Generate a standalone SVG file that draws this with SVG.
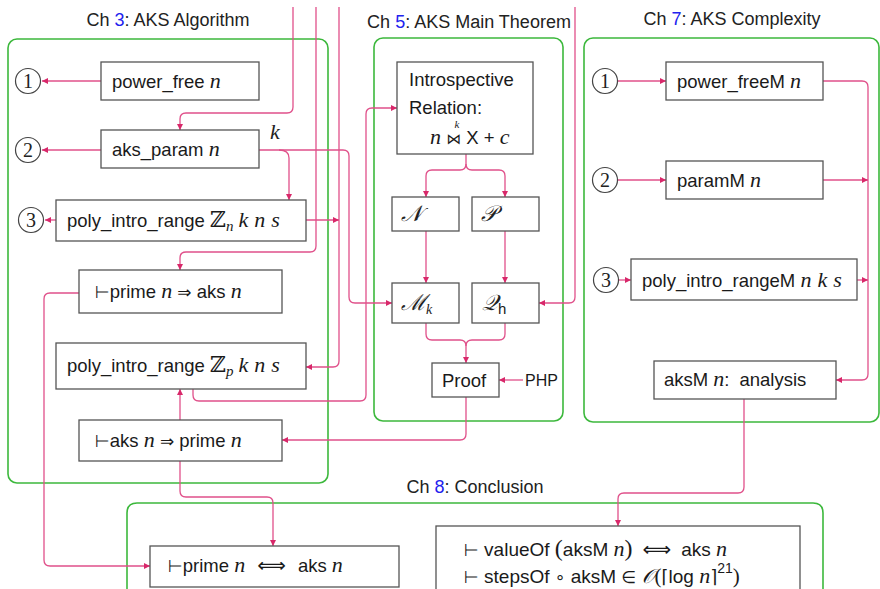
<svg xmlns="http://www.w3.org/2000/svg" width="880" height="589" viewBox="0 0 880 589">
<style>
.t{font-family:"Liberation Sans",Arial,sans-serif;font-size:18.5px;fill:#1a1a1a}
.ti{font-family:"Liberation Sans",Arial,sans-serif;font-size:18px;fill:#222}
.b{fill:#2222ee}
.m{font-family:"Liberation Serif","DejaVu Serif",serif;font-style:italic;font-size:22px}
.sy{font-family:"DejaVu Sans",sans-serif;font-size:17px}
.box{fill:#fff;stroke:#555;stroke-width:1.3}
.grp{fill:none;stroke:#3cb83c;stroke-width:1.6}
.c{fill:none;stroke:#e0508a;stroke-width:1.3}
.a{marker-end:url(#ah)}
.cir{fill:#fff;stroke:#444;stroke-width:1.2}
.num{font-family:"Liberation Serif",serif;font-size:20px;fill:#222}
</style>
<defs>
<marker id="ah" markerUnits="userSpaceOnUse" markerWidth="7" markerHeight="6" refX="6" refY="3" orient="auto">
<path d="M0,0 L6,3 L0,6 z" fill="#d8286a"/>
</marker>
</defs>
<rect width="880" height="589" fill="#fff"/>

<g id="chapters">
<rect class="grp" x="8" y="39" width="320" height="444" rx="9"/>
<text class="ti" x="168" y="26" text-anchor="middle">Ch <tspan class="b">3</tspan>: AKS Algorithm</text>
<rect class="grp" x="374" y="38" width="189" height="383" rx="9"/>
<text class="ti" x="469" y="28" text-anchor="middle">Ch <tspan class="b">5</tspan>: AKS Main Theorem</text>
<rect class="grp" x="584" y="38" width="295" height="384" rx="9"/>
<text class="ti" x="732" y="25" text-anchor="middle">Ch <tspan class="b">7</tspan>: AKS Complexity</text>
<path class="grp" d="M127,592 V513 Q127,503 137,503 H813 Q823,503 823,513 V592"/>
<text class="ti" x="475" y="493" text-anchor="middle">Ch <tspan class="b">8</tspan>: Conclusion</text>
</g>

<g id="connectors">
<path class="c a" d="M101,81 H42"/>
<path class="c a" d="M101,150 H42"/>
<path class="c a" d="M56,220 H45"/>
<path class="c a" d="M293,7 V107 Q293,113 287,113 H186 Q180,113 180,119 V130"/>
<path class="c a" d="M316,7 V246 Q316,252 310,252 H186 Q180,252 180,258 V270"/>
<path class="c a" d="M339,7 V361 Q339,367 333,367 H306"/>
<path class="c a" d="M306,220 H339"/>
<path class="c a" d="M259,150 H343 Q349,150 349,156 V297 Q349,303 355,303 H392"/>
<path class="c a" d="M279,150 Q289,150 289,158 V200"/>
<path class="c a" d="M193,389 V395 Q193,401 199,401 H360 Q366,401 366,395 V114 Q366,108 372,108 H397"/>
<path class="c a" d="M180,420 V389"/>
<path class="c a" d="M79,293 H50 Q44,293 44,299 V560 Q44,566 50,566 H150"/>
<path class="c a" d="M180,461 V491 Q180,497 186,497 H267 Q273,497 273,503 V546"/>
<path class="c a" d="M466,397 V434 Q466,440 460,440 H282"/>
<path class="c a" d="M466,154 V164 Q466,170 460,170 H432 Q426,170 426,176 V197"/>
<path class="c a" d="M466,164 Q466,170 472,170 H499 Q505,170 505,176 V197"/>
<path class="c a" d="M426,231 V283"/>
<path class="c a" d="M505,231 V283"/>
<path class="c a" d="M426,323 V334 Q426,340 432,340 H460 Q466,340 466,346 V363"/>
<path class="c" d="M505,323 V334 Q505,340 499,340 H472 Q466,340 466,346"/>
<path class="c a" d="M523,380 H499"/>
<path class="c a" d="M575,7 V297 Q575,303 569,303 H539"/>
<path class="c a" d="M618,81 H666"/>
<path class="c a" d="M618,180 H666"/>
<path class="c a" d="M619,280 H631"/>
<path class="c a" d="M823,81 H862 Q868,81 868,87 V374 Q868,380 862,380 H836"/>
<path class="c a" d="M823,180 H868"/>
<path class="c a" d="M857,280 H868"/>
<path class="c a" d="M744,399 V487 Q744,493 738,493 H624 Q618,493 618,499 V526"/>
</g>

<g id="c3-1"><circle class="cir" cx="28" cy="81" r="12.5"/><text class="num" x="28" y="88" text-anchor="middle">1</text></g>
<g id="c3-2"><circle class="cir" cx="28" cy="150" r="12.5"/><text class="num" x="28" y="157" text-anchor="middle">2</text></g>
<g id="c3-3"><circle class="cir" cx="31" cy="220" r="12.5"/><text class="num" x="31" y="227" text-anchor="middle">3</text></g>

<g id="power_free"><rect class="box" x="101" y="62" width="158" height="38"/>
<text class="t" x="112" y="88">power_free <tspan class="m">n</tspan></text></g>
<g id="aks_param"><rect class="box" x="101" y="130" width="158" height="38"/>
<text class="t" x="112" y="156">aks_param <tspan class="m">n</tspan></text>
<text class="m" x="270" y="139" style="font-size:22px;fill:#222">k</text></g>
<g id="poly_zn"><rect class="box" x="56" y="200" width="250" height="41"/>
<text class="t" x="67" y="227">poly_intro_range <tspan style="font-family:'DejaVu Serif',serif;font-size:22px">ℤ</tspan><tspan class="m" style="font-size:15px" dy="4">n</tspan><tspan class="m" dy="-4" dx="5">k</tspan><tspan class="m" dx="6">n</tspan><tspan class="m" dx="6">s</tspan></text></g>
<g id="prime_aks"><rect class="box" x="79" y="270" width="203" height="43"/>
<text class="t" x="95" y="298"><tspan class="sy">⊢</tspan>prime <tspan class="m">n</tspan> <tspan class="sy">⇒</tspan> aks <tspan class="m">n</tspan></text></g>
<g id="poly_zp"><rect class="box" x="56" y="343" width="250" height="46"/>
<text class="t" x="67" y="372">poly_intro_range <tspan style="font-family:'DejaVu Serif',serif;font-size:22px">ℤ</tspan><tspan class="m" style="font-size:15px" dy="4">p</tspan><tspan class="m" dy="-4" dx="5">k</tspan><tspan class="m" dx="6">n</tspan><tspan class="m" dx="6">s</tspan></text></g>
<g id="aks_prime"><rect class="box" x="79" y="420" width="203" height="41"/>
<text class="t" x="95" y="447"><tspan class="sy">⊢</tspan>aks <tspan class="m">n</tspan> <tspan class="sy">⇒</tspan> prime <tspan class="m">n</tspan></text></g>

<g id="introspective"><rect class="box" x="397" y="62" width="136" height="92"/>
<text class="t" x="409" y="86">Introspective</text>
<text class="t" x="409" y="114">Relation:</text>
<text class="t" x="430" y="144"><tspan class="m">n</tspan> <tspan class="sy" style="font-size:15px">⋈</tspan> X + <tspan class="m">c</tspan></text>
<text class="m" x="457" y="128" style="font-size:11px;fill:#222" text-anchor="middle">k</text></g>
<g id="N"><rect class="box" x="392" y="197" width="67" height="34"/>
<text class="m" x="401" y="221" style="fill:#222">𝒩</text></g>
<g id="P"><rect class="box" x="472" y="197" width="67" height="34"/>
<text class="m" x="481" y="221" style="fill:#222">𝒫</text></g>
<g id="Mk"><rect class="box" x="392" y="283" width="67" height="40"/>
<text class="m" x="401" y="310" style="fill:#222">ℳ<tspan style="font-size:14px" dy="4">k</tspan></text></g>
<g id="Qh"><rect class="box" x="472" y="283" width="67" height="40"/>
<text class="m" x="482" y="310" style="fill:#222">𝒬<tspan class="t" style="font-style:normal;font-size:15px" dy="4">h</tspan></text></g>
<g id="proof"><rect class="box" x="432" y="363" width="67" height="34"/>
<text class="t" x="442" y="387">Proof</text></g>
<g id="php"><text class="t" x="525" y="386" style="font-size:16px">PHP</text></g>

<g id="c7-1"><circle class="cir" cx="605" cy="81" r="12.5"/><text class="num" x="605" y="88" text-anchor="middle">1</text></g>
<g id="c7-2"><circle class="cir" cx="605" cy="180" r="12.5"/><text class="num" x="605" y="187" text-anchor="middle">2</text></g>
<g id="c7-3"><circle class="cir" cx="606" cy="280" r="12.5"/><text class="num" x="606" y="287" text-anchor="middle">3</text></g>
<g id="power_freeM"><rect class="box" x="666" y="62" width="157" height="38"/>
<text class="t" x="677" y="88">power_freeM <tspan class="m">n</tspan></text></g>
<g id="paramM"><rect class="box" x="666" y="161" width="157" height="38"/>
<text class="t" x="677" y="187">paramM <tspan class="m">n</tspan></text></g>
<g id="polyM"><rect class="box" x="631" y="259" width="226" height="41"/>
<text class="t" x="642" y="287">poly_intro_rangeM <tspan class="m">n</tspan><tspan class="m" dx="6">k</tspan><tspan class="m" dx="6">s</tspan></text></g>
<g id="aksM"><rect class="box" x="654" y="361" width="182" height="38"/>
<text class="t" x="664" y="386">aksM <tspan class="m">n</tspan>:<tspan dx="10">analysis</tspan></text></g>

<g id="iff"><rect class="box" x="150" y="546" width="249" height="41"/>
<text class="t" x="168" y="572"><tspan class="sy">⊢</tspan>prime <tspan class="m">n</tspan><tspan class="sy" dx="12" style="font-size:20px">⟺</tspan><tspan dx="12">aks </tspan><tspan class="m">n</tspan></text></g>
<g id="result"><rect class="box" x="436" y="526" width="364" height="70"/>
<text class="t" x="464" y="556" style="font-size:19px"><tspan class="sy">⊢</tspan> valueOf <tspan style="font-size:24px;font-family:'Liberation Serif',serif">(</tspan>aksM <tspan class="m">n</tspan><tspan style="font-size:24px;font-family:'Liberation Serif',serif">)</tspan><tspan class="sy" dx="10" style="font-size:20px">⟺</tspan><tspan dx="10">aks </tspan><tspan class="m">n</tspan></text>
<text class="t" x="464" y="583" style="font-size:19px"><tspan class="sy">⊢</tspan> stepsOf <tspan class="sy">∘</tspan> aksM <tspan class="sy">∈</tspan> <tspan class="m" style="font-size:20px">𝒪</tspan><tspan style="font-size:21px;font-family:'Liberation Serif',serif">(</tspan><tspan class="sy" style="font-size:18px">⌈</tspan>log <tspan class="m">n</tspan><tspan class="sy" style="font-size:18px">⌉</tspan><tspan style="font-size:14px" dy="-10">21</tspan><tspan dy="10" style="font-size:21px;font-family:'Liberation Serif',serif">)</tspan></text></g>
</svg>
